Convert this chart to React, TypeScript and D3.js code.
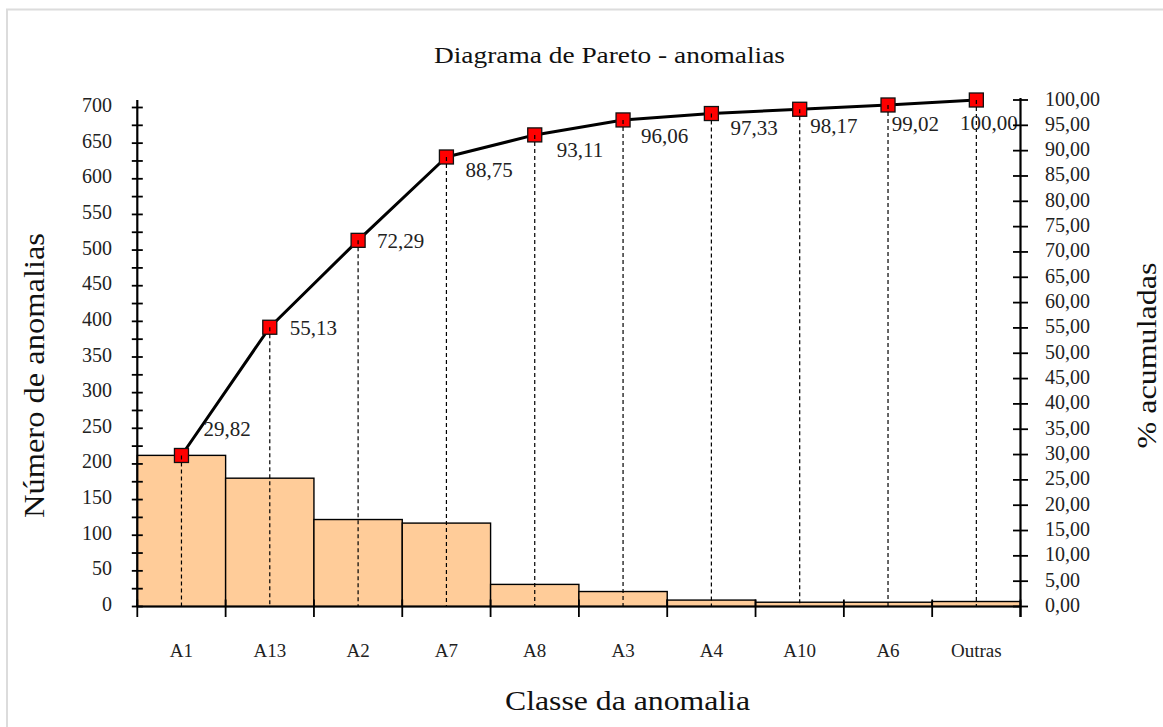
import React from "react";
import * as d3 from "d3";

// ---- data ----
const categories = ["A1", "A13", "A2", "A7", "A8", "A3", "A4", "A10", "A6", "Outras"];
const counts = [212, 180, 122, 117, 31, 21, 9, 6, 6, 7];
const leftTicks = [0, 50, 100, 150, 200, 250, 300, 350, 400, 450, 500, 550, 600, 650, 700];
const leftMinorTicks = [25, 75, 125, 175, 225, 275, 325, 375, 425, 475, 525, 575, 625, 675];
const rightTicks = [0, 5, 10, 15, 20, 25, 30, 35, 40, 45, 50, 55, 60, 65, 70, 75, 80, 85, 90, 95, 100];

// ---- layout (label placement offsets relative to each marker) ----
const labelOffsets: [number, number][] = [
  [22, -19.5], [20, 8], [19, 8], [19, 20.5], [22, 22],
  [18, 23.5], [19, 21.5], [10.5, 24], [3.7, 25.7], [-16.3, 30],
];

const W = 1163;
const H = 727;
const X0 = 137.3, X1 = 1020.5, Y0 = 606.5;
const FONT = "'Liberation Serif', 'Times New Roman', serif";

const fmt = (v: number) => d3.format(".2f")(v).replace(".", ",");

export default function App() {
  const x = d3.scaleBand<string>().domain(categories).range([X0, X1]).padding(0);
  const bw = x.bandwidth();
  const yL = d3.scaleLinear().domain([0, 700]).range([Y0, 107.5]);
  const yR = d3.scaleLinear().domain([0, 100]).range([Y0, 100]);

  const total = d3.sum(counts);
  const cum = d3.cumsum(counts);
  const cumPct = Array.from(cum, (c) => (c / total) * 100);

  const cx = (i: number) => (x(categories[i]) as number) + bw / 2;
  const line = d3
    .line<number>()
    .x((_, i) => cx(i))
    .y((d) => yR(d));

  const boundaries = categories.map((c) => x(c) as number).concat([X1]);

  return (
    <div style={{ position: "absolute", left: 0, top: 0 }}>
      <svg width={W} height={H} style={{ display: "block", background: "#fff" }}>
        <rect x={7} y={9.5} width={W + 20} height={H + 20} fill="#fff" stroke="#dcdcdc" strokeWidth={2} />

        <text x={609.5} y={63} textAnchor="middle" fontFamily={FONT} fontSize={24} textLength={351} lengthAdjust="spacingAndGlyphs" fill="#111">
          Diagrama de Pareto - anomalias
        </text>

        {/* bars */}
        {counts.map((v, i) => (
          <rect
            key={categories[i]}
            x={x(categories[i]) as number}
            y={yL(v)}
            width={bw}
            height={Y0 - yL(v)}
            fill="#FFCC99"
            stroke="#000"
            strokeWidth={1.4}
          />
        ))}

        {/* cumulative line */}
        <path d={line(cumPct) || ""} fill="none" stroke="#000" strokeWidth={3} strokeLinejoin="round" />

        {/* markers */}
        {cumPct.map((p, i) => (
          <rect key={"m" + i} x={cx(i) - 7} y={yR(p) - 7} width={14} height={14} fill="#FF0000" stroke="#111" strokeWidth={1.3} />
        ))}

        {/* dashed drop lines */}
        {cumPct.map((p, i) => (
          <line key={"d" + i} x1={cx(i)} x2={cx(i)} y1={yR(p)} y2={Y0} stroke="#000" strokeWidth={1.2} strokeDasharray="4,3" />
        ))}

        {/* data labels */}
        {cumPct.map((p, i) => (
          <text key={"l" + i} x={cx(i) + labelOffsets[i][0]} y={yR(p) + labelOffsets[i][1]} fontFamily={FONT} fontSize={21} fill="#222">
            {fmt(p)}
          </text>
        ))}

        {/* x axis */}
        <line x1={X0} x2={X1} y1={Y0} y2={Y0} stroke="#000" strokeWidth={2.2} />
        {boundaries.map((b, i) => (
          <line key={"xt" + i} x1={b} x2={b} y1={Y0 - 7} y2={Y0 + 10.5} stroke="#000" strokeWidth={1.8} />
        ))}
        {categories.map((c) => (
          <text key={"xl" + c} x={(x(c) as number) + bw / 2} y={657} textAnchor="middle" fontFamily={FONT} fontSize={19} fill="#222">
            {c}
          </text>
        ))}

        {/* left axis */}
        <line x1={X0} x2={X0} y1={100} y2={Y0} stroke="#000" strokeWidth={2.2} />
        {leftTicks.concat(leftMinorTicks).map((t) => (
          <line key={"lt" + t} x1={X0 - 5.5} x2={X0 + 5.5} y1={yL(t)} y2={yL(t)} stroke="#000" strokeWidth={1.8} />
        ))}
        {leftTicks.map((t) => (
          <text key={"ll" + t} x={112} y={yL(t) + 4.5} textAnchor="end" fontFamily={FONT} fontSize={20} fill="#222">
            {t}
          </text>
        ))}

        {/* right axis */}
        <line x1={X1} x2={X1} y1={98} y2={Y0 + 10.5} stroke="#000" strokeWidth={2.2} />
        {rightTicks.map((t) => (
          <line key={"rt" + t} x1={X1 - 7.5} x2={X1 + 7.5} y1={yR(t)} y2={yR(t)} stroke="#000" strokeWidth={1.8} />
        ))}
        {rightTicks.map((t) => (
          <text key={"rl" + t} x={1045} y={yR(t) + 5.5} fontFamily={FONT} fontSize={20} fill="#222">
            {fmt(t)}
          </text>
        ))}

        {/* axis titles */}
        <text x={627.5} y={710} textAnchor="middle" fontFamily={FONT} fontSize={28} textLength={245} lengthAdjust="spacingAndGlyphs" fill="#111">
          Classe da anomalia
        </text>
        <text transform="translate(44,375.5) rotate(-90)" textAnchor="middle" fontFamily={FONT} fontSize={29} textLength={285} lengthAdjust="spacingAndGlyphs" fill="#111">
          Número de anomalias
        </text>
        <text transform="translate(1156,355.5) rotate(-90)" textAnchor="middle" fontFamily={FONT} fontSize={27} textLength={186} lengthAdjust="spacingAndGlyphs" fill="#111">
          % acumuladas
        </text>
      </svg>
    </div>
  );
}
